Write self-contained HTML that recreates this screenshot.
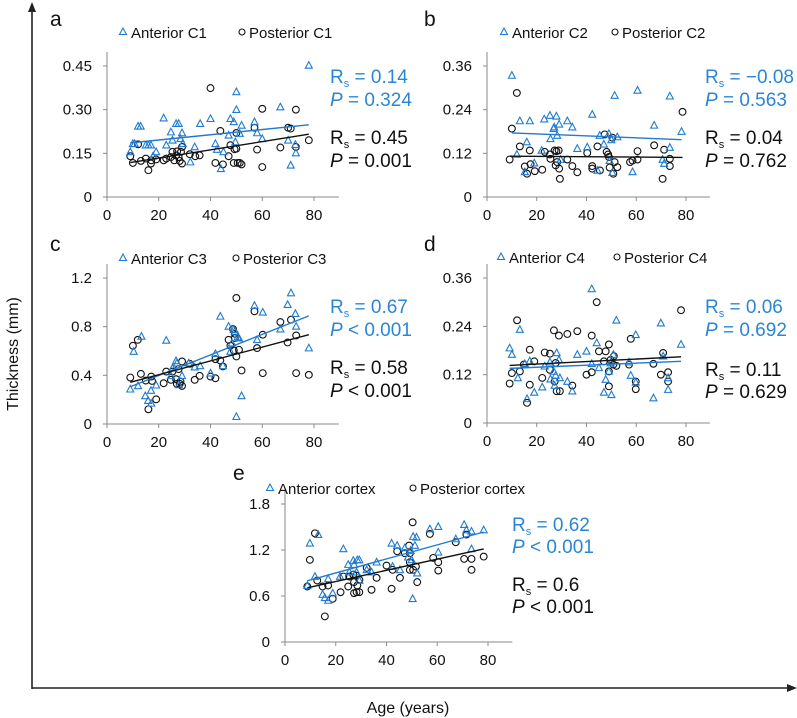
<!DOCTYPE html>
<html><head><meta charset="utf-8"><style>
html,body{margin:0;padding:0;background:#fff;}
svg{display:block;font-family:"Liberation Sans",Arial,sans-serif;}
</style></head><body>
<svg id="chart" width="797" height="718" viewBox="0 0 797 718">
<g id="frame">
<line x1="32" y1="689" x2="32" y2="8" stroke="#222" stroke-width="1.6"/>
<polygon points="32,2 28,12 36,12" fill="#222"/>
<line x1="32" y1="688" x2="790" y2="688" stroke="#222" stroke-width="1.6"/>
<polygon points="797,688 787,684 787,692" fill="#222"/>
<text x="18" y="354" font-size="16" text-anchor="middle" transform="rotate(-90 18 354)" fill="#111">Thickness (mm)</text>
<text x="408" y="713" font-size="16" text-anchor="middle" fill="#111">Age (years)</text>
</g>
</svg>
<script>
// ---- Panel a (C1) ----
const aAntAge=[9,10,10.7,12,13,15,16,17,17.8,19,21.9,22.9,24.7,25.3,26.7,27.7,28.4,29,29.3,32.2,33.9,36,40,41.9,42.5,44,45,47,47.7,49,49.6,50,50,51.3,52,57,58,60,67,70,71,72.8,73,78];
const aAntVal=[0.155,0.183,0.183,0.243,0.243,0.178,0.178,0.178,0.14,0.155,0.271,0.178,0.223,0.195,0.252,0.252,0.2,0.22,0.183,0.12,0.172,0.252,0.269,0.183,0.163,0.097,0.155,0.212,0.269,0.258,0.189,0.361,0.3,0.218,0.246,0.258,0.22,0.2,0.309,0.195,0.109,0.18,0.151,0.452];
const aPostAge=[9,10,12,13.1,15,16,17,17.1,19,21.9,22.9,24.7,25.3,26,26.7,27.1,27.7,28.1,28.6,29,29,32,34.1,35.8,40,41.9,43.8,44.8,47,47.7,49,49.3,50,50,50.5,51.3,52,57,58,60,60,67,70,71,73,73,78];
const aPostVal=[0.14,0.117,0.181,0.124,0.132,0.092,0.115,0.126,0.129,0.126,0.132,0.137,0.155,0.126,0.143,0.157,0.137,0.124,0.155,0.115,0.172,0.147,0.14,0.143,0.374,0.117,0.227,0.112,0.14,0.178,0.117,0.164,0.22,0.166,0.117,0.117,0.112,0.238,0.163,0.303,0.103,0.17,0.238,0.235,0.3,0.172,0.195];
const aYTicks=[0,0.15,0.30,0.45];
const aYLabels=["0","0.15","0.30","0.45"];
// ---- Panel b (C2) ----
const bAntAge=[10,12,13.2,16,15.2,17.2,19,22,23,25.3,25.5,26.8,27,27.9,28.2,29,29.6,32.3,34.3,36.3,40.3,42.3,44.4,45.3,47,49,49.3,50,50.4,51.3,52.4,58.5,60.5,67.2,70.6,71.2,73.5,73.5,78.2];
const bAntVal=[0.334,0.117,0.209,0.151,0.069,0.209,0.093,0.128,0.214,0.224,0.16,0.188,0.192,0.222,0.169,0.2,0.103,0.209,0.192,0.133,0.137,0.227,0.073,0.169,0.145,0.174,0.1,0.157,0.067,0.279,0.165,0.069,0.293,0.197,0.103,0.092,0.277,0.136,0.18];
const bPostAge=[9.1,10,12,13.2,15.2,16.1,17.2,17.5,19.2,22.2,23.2,25.3,25.5,27.2,27.6,27.9,28.2,28.8,29,29.3,32.3,34.3,36.3,40.3,42.3,42.3,44.4,45.4,47.3,48.1,48.7,49,49.3,50.4,50.8,51.3,52.4,57.5,58.5,60.5,60.5,67.2,70.6,71.2,73.5,73.5,78.6];
const bPostVal=[0.103,0.188,0.286,0.139,0.084,0.064,0.128,0.09,0.071,0.075,0.124,0.117,0.105,0.128,0.087,0.126,0.096,0.128,0.078,0.05,0.103,0.085,0.068,0.121,0.085,0.078,0.139,0.073,0.172,0.124,0.117,0.11,0.081,0.163,0.064,0.096,0.082,0.096,0.1,0.126,0.103,0.142,0.05,0.13,0.105,0.085,0.234];
const bYTicks=[0,0.12,0.24,0.36];
const bYLabels=["0","0.12","0.24","0.36"];
// ---- Panel c (C3) ----
const cAntAge=[9,10.3,12,13.3,14.8,15.9,17,17.1,19,22.9,24.7,25.3,26.7,27,27.7,29,31.6,33.9,36,40,41.9,43.8,44.8,47,47.7,48.3,49,49.4,50,50.5,51,52,57,58,60.2,67,69.8,71.1,72.8,73.1,78];
const cAntVal=[0.286,0.596,0.313,0.72,0.231,0.192,0.275,0.17,0.319,0.687,0.396,0.459,0.519,0.5,0.321,0.396,0.5,0.467,0.478,0.418,0.577,0.885,0.478,0.802,0.596,0.665,0.775,0.761,0.06,0.714,0.706,0.231,0.973,0.692,0.918,0.78,0.981,1.077,0.907,0.802,0.624];
const cPostAge=[9,10,11.9,13.1,15,16,17.1,17.4,19,21.9,22.9,24.7,25.3,26.7,27,27.7,28.1,28.4,29,29,32,33.9,35.8,40,41.9,41.9,43.8,44.8,47,47.7,48.7,49,49.4,49.4,50,50,51,52,57,58,60.2,60.2,67,69.8,71.1,73.1,73.1,78];
const cPostVal=[0.382,0.643,0.692,0.412,0.357,0.121,0.39,0.354,0.203,0.335,0.431,0.363,0.431,0.368,0.33,0.451,0.33,0.349,0.313,0.514,0.495,0.363,0.396,0.39,0.376,0.533,0.522,0.473,0.692,0.643,0.78,0.604,0.742,0.706,1.036,0.555,0.61,0.44,0.926,0.624,0.418,0.734,0.838,0.67,0.857,0.728,0.418,0.404];
const cYTicks=[0,0.4,0.8,1.2];
const cYLabels=["0","0.4","0.8","1.2"];
// ---- Panel d (C4) ----
const dAntAge=[9.1,10,12.4,13.2,15.2,16.1,17.2,19,22.2,23.2,25.3,25.5,26.8,27.2,27.6,28,28.9,29.3,34.3,32.3,36.3,40,42.1,42.1,44.1,45,47,47.7,49,49.7,50,50.8,52,57.1,57.8,59.8,59.8,66.9,69.9,70.8,72.8,72.8,78];
const dAntVal=[0.186,0.17,0.112,0.232,0.147,0.06,0.154,0.076,0.089,0.141,0.151,0.109,0.128,0.093,0.118,0.174,0.157,0.112,0.079,0.103,0.17,0.178,0.333,0.147,0.199,0.137,0.076,0.108,0.128,0.149,0.07,0.17,0.255,0.151,0.118,0.219,0.101,0.062,0.248,0.166,0.112,0.083,0.195];
const dPostAge=[9.1,10,12.1,13.2,14.8,16.1,17.2,17.2,19,22.2,23.2,25.3,25.3,26.9,27.2,27.6,28,28.9,29.3,32.3,34.3,36.3,40,42.1,42.1,44.1,45,47,47.7,49,49,49,49.7,50.8,51,52,57.1,57.8,59.8,59.8,66.9,69.9,70.8,72.8,72.8,78];
const dPostVal=[0.098,0.124,0.255,0.128,0.145,0.05,0.095,0.182,0.153,0.112,0.175,0.172,0.132,0.23,0.103,0.149,0.079,0.217,0.079,0.221,0.093,0.228,0.12,0.217,0.126,0.3,0.178,0.153,0.178,0.128,0.091,0.195,0.157,0.145,0.166,0.142,0.145,0.209,0.103,0.084,0.147,0.12,0.174,0.126,0.103,0.28];
const dYTicks=[0,0.12,0.24,0.36];
const dYLabels=["0","0.12","0.24","0.36"];
// ---- Panel e (cortex) ----
const eAntAge=[8.8,9.8,11.8,13.1,14.8,15.7,17,17,18.8,21.7,23,24.9,25.3,26.9,27.2,28.2,28.5,29.3,29.3,32.2,34.1,36.1,42,42.4,44.2,45.3,47.2,48.5,49.5,49.9,50.3,50.5,51.2,51.8,52.1,57.1,60.4,60.4,67.3,70.6,71.5,73.5,73.5,78.3];
const eAntVal=[0.737,1.288,0.854,1.4,0.62,0.577,0.824,0.542,0.637,0.854,1.214,1.01,0.911,1.062,1.01,0.911,1.07,1.07,0.802,0.941,0.911,1.041,1.288,0.984,1.258,0.941,1.227,1.106,1.193,1.071,0.564,1.375,1.258,1.366,0.898,1.474,1.505,1.171,1.344,1.531,1.461,1.444,1.214,1.461];
const ePostAge=[8.8,9.8,11.8,12.7,14.8,15.7,17,18.8,21.9,23,24.9,25.3,26.9,27.2,27.2,28,28.2,28.5,29.3,29.3,32.2,34.1,36.1,40,42,42.4,44.2,45.3,47.2,48.9,49.2,49.2,49.2,50.3,50.5,51.6,52.1,57.1,58.4,60.4,60.4,67.3,70.6,71.5,73.5,73.5,78.3];
const ePostVal=[0.724,1.071,1.418,0.802,0.724,0.334,0.737,0.564,0.65,0.854,0.724,0.854,0.88,0.781,0.637,0.867,0.65,0.737,0.811,0.65,0.967,0.681,0.837,0.997,0.694,0.941,1.184,0.837,1.158,1.258,1.158,1.041,0.941,1.561,0.941,0.984,0.781,1.409,1.097,0.932,1.041,1.301,1.084,1.401,1.084,0.941,1.114];
const eYTicks=[0,0.6,1.2,1.8];
const eYLabels=["0","0.6","1.2","1.8"];
const xTicks=[0,20,40,60,80];
const xLabels=["0","20","40","60","80"];

const NS="http://www.w3.org/2000/svg";
const svg=document.getElementById('chart');
const BLUE="#1f7bd0", BLUE_T="#2a86d4";
function mk(tag,attrs,parent){const el=document.createElementNS(NS,tag);for(const k in attrs)el.setAttribute(k,attrs[k]);(parent||svg).appendChild(el);return el;}
function fit(xs,ys){const n=xs.length;let sx=0,sy=0,sxx=0,sxy=0;for(let i=0;i<n;i++){sx+=xs[i];sy+=ys[i];sxx+=xs[i]*xs[i];sxy+=xs[i]*ys[i];}const b=(n*sxy-sx*sy)/(n*sxx-sx*sx);return{b:b,a:(sy-b*sx)/n,min:Math.min(...xs),max:Math.max(...xs)};}

function panel(p){
  const g=mk('g',{});
  
  
  const X=v=>p.ox+v*p.w/80;
  const Y=v=>p.oy-v*p.h/p.ymax;
  const t=mk('text',{x:p.lx,y:p.ly,'font-size':21,fill:'#111'},g);t.textContent=p.id;
  
  
  const ya=mk('line',{x1:p.ox,y1:p.oy,x2:p.ox,y2:p.oy-p.h-14,stroke:'#8a8a8a','stroke-width':1},g);
  
  
  const xa=mk('line',{x1:p.ox,y1:p.oy,x2:p.ox+p.w*1.12,y2:p.oy,stroke:'#8a8a8a','stroke-width':1},g);
  
  
  p.yt.forEach((v,i)=>{
    const tk=mk('line',{x1:p.ox-4,y1:Y(v),x2:p.ox,y2:Y(v),stroke:'#8a8a8a','stroke-width':1},g);
    
    
    const e=mk('text',{x:p.ox-15,y:Y(v)+5,'font-size':15,'text-anchor':'end',fill:'#111'},g);e.textContent=p.yl[i];
    
    });
  xTicks.forEach((v,i)=>{
    const tk=mk('line',{x1:X(v),y1:p.oy,x2:X(v),y2:p.oy+4,stroke:'#8a8a8a','stroke-width':1},g);
    
    
    const e=mk('text',{x:X(v),y:p.oy+23,'font-size':15,'text-anchor':'middle',fill:'#111'},g);e.textContent=xLabels[i];
    
    });
  const lt=mk('polygon',{points:`${p.tx},${p.legY-10} ${p.tx-3.5},${p.legY-3.5} ${p.tx+3.5},${p.legY-3.5}`,fill:'none',stroke:BLUE,'stroke-width':1.1},g);
  
  
  const l1=mk('text',{x:p.tx+8,y:p.legY,'font-size':15,fill:'#111'},g);l1.textContent=p.n1;
  
  
  const lc=mk('circle',{cx:p.cx,cy:p.legY-6,r:3,fill:'none',stroke:'#111','stroke-width':1.1},g);
  
  
  const l2=mk('text',{x:p.cx+7,y:p.legY,'font-size':15,fill:'#111'},g);l2.textContent=p.n2;
  
  
  p.pa.forEach((a,i)=>{const c=mk('circle',{cx:X(a),cy:Y(p.pv[i]),r:3.4,fill:'none',stroke:'#111','stroke-width':1.1},g);
    
    });
  p.aa.forEach((a,i)=>{const x=X(a),y=Y(p.av[i]);const tr=mk('polygon',{points:`${x},${y-3.8} ${x-3.5},${y+2.8} ${x+3.5},${y+2.8}`,fill:'none',stroke:BLUE,'stroke-width':1.1},g);
    
    });
  const f1=fit(p.aa,p.av),f2=fit(p.pa,p.pv);
  const t1=mk('line',{x1:X(f1.min),y1:Y(f1.a+f1.b*f1.min),x2:X(f1.max),y2:Y(f1.a+f1.b*f1.max),stroke:BLUE,'stroke-width':1.4},g);
  
  
  const t2=mk('line',{x1:X(f2.min),y1:Y(f2.a+f2.b*f2.min),x2:X(f2.max),y2:Y(f2.a+f2.b*f2.max),stroke:'#111','stroke-width':1.4},g);
  
  
  function stat(y,col,html,name){const e=mk('text',{x:p.sx,y:y,'font-size':19,fill:col},g);e.innerHTML=html;
    
    }
  stat(p.sy[0],BLUE_T,'R<tspan font-size="11" dy="4">s</tspan><tspan dy="-4"> = '+p.r1+'</tspan>','anterior-rs');
  stat(p.sy[1],BLUE_T,'<tspan font-style="italic">P</tspan> '+p.p1,'anterior-p');
  stat(p.sy[2],'#111','R<tspan font-size="11" dy="4">s</tspan><tspan dy="-4"> = '+p.r2+'</tspan>','posterior-rs');
  stat(p.sy[3],'#111','<tspan font-style="italic">P</tspan> '+p.p2,'posterior-p');
}
panel({id:'a',ox:107,oy:197,w:207,h:131,ymax:0.45,yt:aYTicks,yl:aYLabels,aa:aAntAge,av:aAntVal,pa:aPostAge,pv:aPostVal,lx:50,ly:26,legY:38,tx:123,cx:242,n1:'Anterior C1',n2:'Posterior C1',sx:330,sy:[83,106,144,167],r1:'0.14',p1:'= 0.324',r2:'0.45',p2:'= 0.001'});
panel({id:'b',ox:487,oy:197,w:199,h:131,ymax:0.36,yt:bYTicks,yl:bYLabels,aa:bAntAge,av:bAntVal,pa:bPostAge,pv:bPostVal,lx:424,ly:26,legY:38,tx:504,cx:615,n1:'Anterior C2',n2:'Posterior C2',sx:705,sy:[83,106,144,167],r1:'\u22120.08',p1:'= 0.563',r2:'0.04',p2:'= 0.762'});
panel({id:'c',ox:107,oy:424,w:207,h:146,ymax:1.2,yt:cYTicks,yl:cYLabels,aa:cAntAge,av:cAntVal,pa:cPostAge,pv:cPostVal,lx:50,ly:251,legY:264,tx:123,cx:236,n1:'Anterior C3',n2:'Posterior C3',sx:330,sy:[313,336,374,397],r1:'0.67',p1:'&lt; 0.001',r2:'0.58',p2:'&lt; 0.001'});
panel({id:'d',ox:487,oy:423,w:199,h:145,ymax:0.36,yt:dYTicks,yl:dYLabels,aa:dAntAge,av:dAntVal,pa:dPostAge,pv:dPostVal,lx:424,ly:251,legY:263,tx:501,cx:617,n1:'Anterior C4',n2:'Posterior C4',sx:705,sy:[313,336,376,398],r1:'0.06',p1:'= 0.692',r2:'0.11',p2:'= 0.629'});
panel({id:'e',ox:285,oy:642,w:203,h:138,ymax:1.8,yt:eYTicks,yl:eYLabels,aa:eAntAge,av:eAntVal,pa:ePostAge,pv:ePostVal,lx:233,ly:480,legY:494,tx:270,cx:413,n1:'Anterior cortex',n2:'Posterior cortex',sx:512,sy:[531,553,591,613],r1:'0.62',p1:'&lt; 0.001',r2:'0.6',p2:'&lt; 0.001'});
</script>
</body></html>
